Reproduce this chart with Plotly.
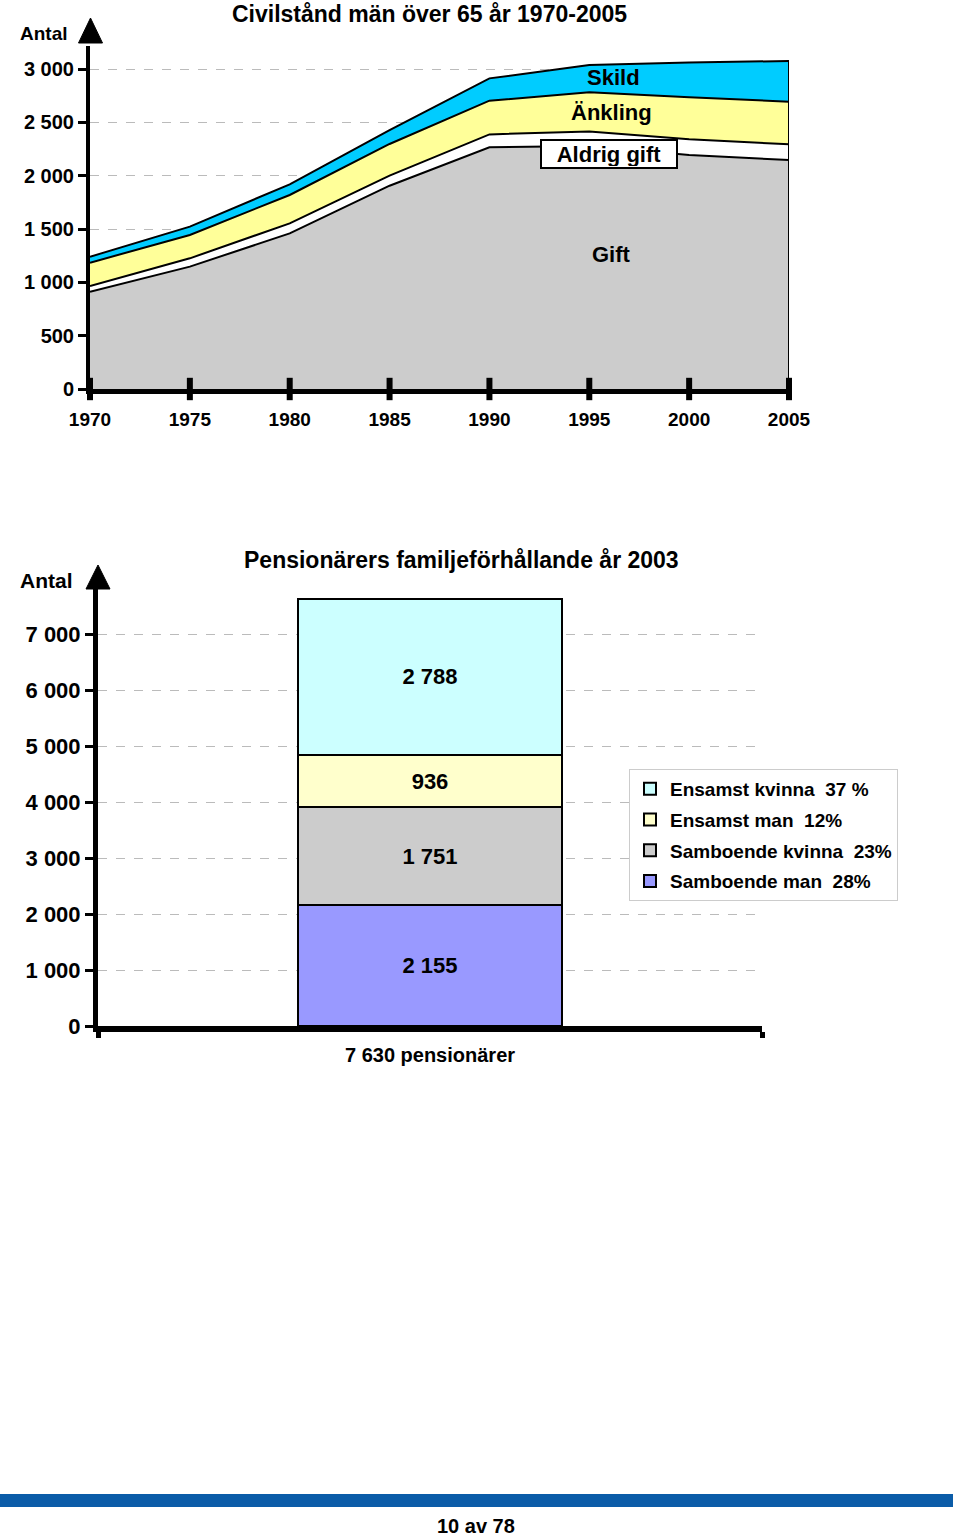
import plotly.graph_objects as go

# ---------------- Data: top chart ----------------
years = [1970, 1975, 1980, 1985, 1990, 1995, 2000, 2005]
gift = [912, 1147, 1459, 1906, 2266, 2278, 2194, 2147]
aldrig_gift = [53, 78, 94, 94, 121, 135, 147, 147]
ankling = [219, 219, 266, 297, 316, 368, 393, 400]
skild = [56, 78, 100, 131, 209, 256, 328, 381]
top_names = ["Gift", "Aldrig gift", "Änkling", "Skild"]
top_colors = ["#CCCCCC", "#FFFFFF", "#FFFF99", "#00CCFF"]
top_yticks = [0, 500, 1000, 1500, 2000, 2500, 3000]

# ---------------- Data: bottom chart ----------------
bar_category = ["7 630 pensionärer"]
bar_names = ["Samboende man", "Samboende kvinna", "Ensamst man", "Ensamst kvinna"]
bar_values = [2155, 1751, 936, 2788]
bar_pct_labels = ["28%", "23%", "12%", "37 %"]
bar_colors = ["#9999FF", "#CCCCCC", "#FFFFCC", "#CCFFFF"]
bottom_yticks = [0, 1000, 2000, 3000, 4000, 5000, 6000, 7000]

W, H = 960, 1540
FONT = "Liberation Sans, Arial, Helvetica, sans-serif"


def py(px):
    return 1 - px / H


def px_(x):
    return x / W


fig = go.Figure()

# ---- top stacked area ----
for name, vals, col in zip(top_names, [gift, aldrig_gift, ankling, skild], top_colors):
    fig.add_trace(go.Scatter(
        x=years, y=vals, name=name, stackgroup="civ", mode="lines",
        line=dict(color="black", width=2), fillcolor=col,
        showlegend=False, hoverinfo="skip", xaxis="x", yaxis="y"))

totals = [a + b + c + d for a, b, c, d in zip(gift, aldrig_gift, ankling, skild)]
fig.add_trace(go.Scatter(
    x=[years[-1], years[-1]], y=[0, totals[-1]], mode="lines",
    line=dict(color="black", width=2), showlegend=False, hoverinfo="skip",
    xaxis="x", yaxis="y"))
fig.add_trace(go.Scatter(
    x=years, y=[0] * len(years), mode="markers",
    marker=dict(symbol="line-ns", size=16, line=dict(width=6, color="black")),
    cliponaxis=False, showlegend=False, hoverinfo="skip", xaxis="x", yaxis="y"))

# ---- bottom stacked bar ----
n = len(bar_names)
for i, (name, v, pct, col) in enumerate(zip(bar_names, bar_values, bar_pct_labels, bar_colors)):
    fig.add_trace(go.Bar(
        x=bar_category, y=[v], name=name + "\u00a0\u00a0" + pct, legendgroup=name,
        legendrank=n - i,
        marker=dict(color=col, line=dict(color="black", width=2)),
        text=[f"{v:,}".replace(",", " ")], textposition="inside",
        insidetextanchor="middle", textangle=0,
        textfont=dict(family=FONT, size=22, color="black", weight="bold"),
        width=0.3976, xaxis="x2", yaxis="y2", hoverinfo="skip"))

# axis geometry (pixels)
top_y0, top_y3000 = 389, 69
top_scale = (top_y0 - top_y3000) / 3000
top_range_max = 3220
top_top_px = top_y0 - top_range_max * top_scale

bot_y0, bot_y7000 = 1026, 634
bot_scale = (bot_y0 - bot_y7000) / 7000
bot_range_max = 7800
bot_top_px = bot_y0 - bot_range_max * bot_scale

tickfont = dict(family=FONT, size=20, color="black", weight="bold")

fig.update_layout(
    width=W, height=H, margin=dict(l=0, r=0, t=0, b=0, pad=0, autoexpand=False),
    paper_bgcolor="white", plot_bgcolor="white",
    separators=", ", barmode="stack", showlegend=True,
    font=dict(family=FONT, color="black"),
    xaxis=dict(domain=[90 / W, 789 / W], range=[1970, 2005], tickvals=years,
               ticks="", showgrid=False, zeroline=False, automargin=False,
               showline=True, linecolor="black", linewidth=5,
               tickfont=dict(family=FONT, size=19, color="black", weight="bold"),
               ticklabelstandoff=9, anchor="y"),
    yaxis=dict(domain=[py(top_y0), py(top_top_px)], range=[0, top_range_max],
               tickvals=top_yticks, tickformat=",d", ticks="outside", ticklen=8,
               tickwidth=3, tickcolor="black", showline=True, linecolor="black",
               linewidth=4, showgrid=True, gridcolor="#BBBBBB", griddash="dash",
               gridwidth=1, zeroline=False, tickfont=tickfont, anchor="x",
               automargin=False),
    xaxis2=dict(domain=[98 / W, 762 / W], range=[-0.5, 0.5], type="category",
                ticks="outside", tickson="boundaries", ticklen=6, tickwidth=5,
                tickcolor="black", showline=True, linecolor="black", linewidth=6,
                showgrid=False, zeroline=False, automargin=False,
                tickfont=dict(family=FONT, size=20, color="black", weight="bold"),
                ticklabelstandoff=6, anchor="y2"),
    yaxis2=dict(domain=[py(bot_y0), py(bot_top_px)], range=[0, bot_range_max],
                tickvals=bottom_yticks, tickformat=",d", ticks="outside", ticklen=8,
                tickwidth=3, tickcolor="black", showline=True, linecolor="black",
                linewidth=5, showgrid=True, gridcolor="#BBBBBB", griddash="dash",
                gridwidth=1, zeroline=False, automargin=False,
                tickfont=dict(family=FONT, size=22, color="black", weight="bold"),
                anchor="x2"),
    legend=dict(x=629 / W, y=py(769), xanchor="left", yanchor="top",
                traceorder="grouped", tracegroupgap=3,
                bgcolor="white", bordercolor="#CCCCCC",
                borderwidth=1, font=dict(family=FONT, size=19, color="black", weight="bold"),
                itemclick=False),
)

bold = lambda s: dict(family=FONT, size=s, color="black", weight="bold")


def lab(text, xpx, ypx, size, **kw):
    d = dict(text=text, x=xpx / W, y=py(ypx), xref="paper", yref="paper",
             showarrow=False, xanchor="center", yanchor="middle", font=bold(size))
    d.update(kw)
    return d


ann = [
    lab("Civilstånd män över 65 år 1970-2005", 429, 14, 23),
    lab("Antal", 44, 33, 19),
    lab("Skild", 613, 78, 22),
    lab("Änkling", 611, 113, 22),
    lab("Aldrig gift", 609, 154, 22, bgcolor="white", bordercolor="black",
        borderwidth=2, borderpad=1, width=132, height=24),
    lab("Gift", 611, 254, 22),
    lab("Pensionärers familjeförhållande år 2003", 461, 560, 23),
    lab("Antal", 46, 581, 21),
    lab("10 av 78", 476, 1526, 20,
        font=dict(family="Liberation Sans Narrow, Liberation Sans, Arial", size=20,
                  color="black", weight="bold")),
]
fig.update_layout(annotations=ann)


def tri(tip_x, tip_y, half_w, h):
    return (f"M {px_(tip_x)} {py(tip_y)} L {px_(tip_x - half_w)} {py(tip_y + h)} "
            f"L {px_(tip_x + half_w)} {py(tip_y + h)} Z")


# axis arrow heads
fig.add_shape(type="path", xref="paper", yref="paper", path=tri(90.5, 18, 12, 25),
              fillcolor="black", line=dict(color="black", width=1), layer="above")
fig.add_shape(type="path", xref="paper", yref="paper", path=tri(98, 565, 12, 24),
              fillcolor="black", line=dict(color="black", width=1), layer="above")

fig.add_shape(type="rect", xref="paper", yref="paper", x0=0, x1=953 / W,
              y0=py(1507), y1=py(1494), fillcolor="#0B5CA8", line=dict(width=0),
              layer="above")

fig.write_html("out.html")
